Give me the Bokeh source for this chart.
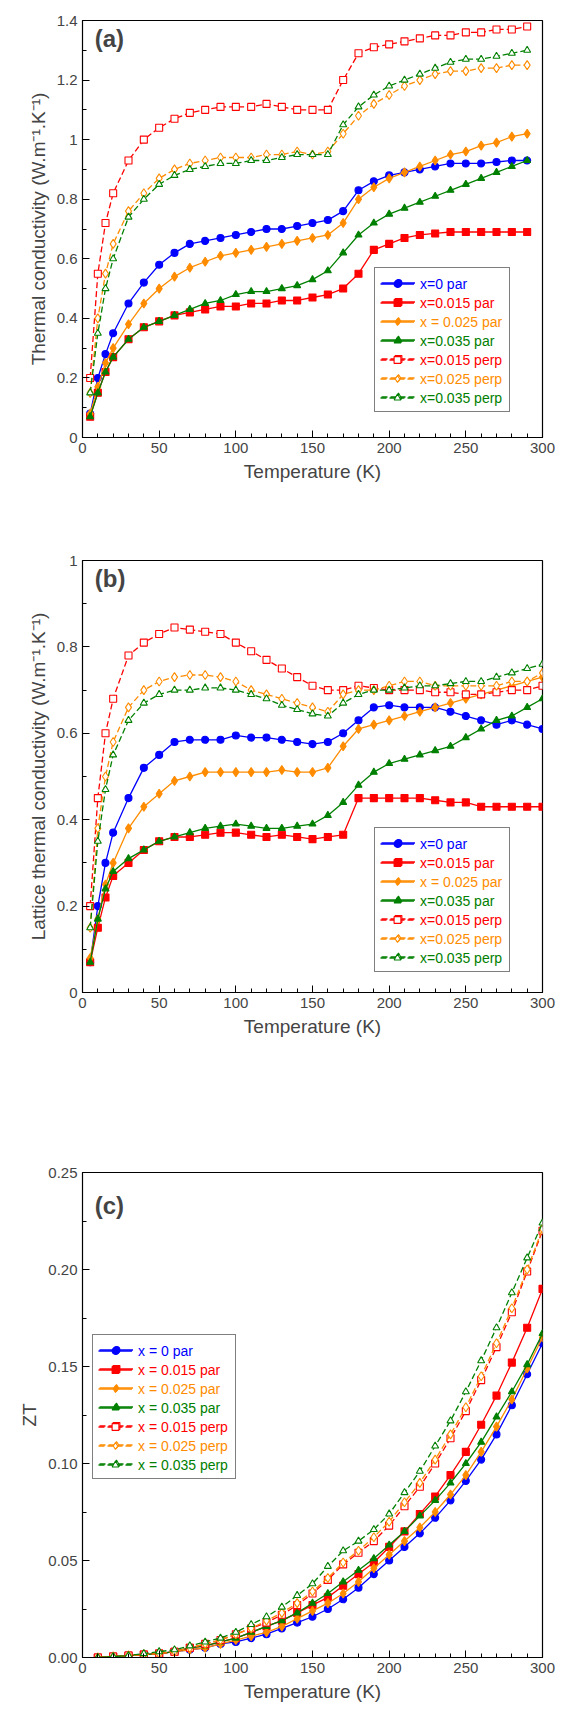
from bokeh.plotting import figure
from bokeh.models import Legend, LegendItem, Label, FixedTicker, CustomJSTickFormatter
from bokeh.layouts import column
from bokeh.embed import file_html
from bokeh.resources import INLINE

# ---------------- data ----------------
T_a = [5,10,15,20,30,40,50,60,70,80,90,100,110,120,130,140,150,160,170,180,190,200,210,220,230,240,250,260,270,280,290]
a_x0_par   = [0.08,0.20,0.28,0.35,0.45,0.52,0.58,0.62,0.65,0.66,0.67,0.68,0.69,0.70,0.70,0.71,0.72,0.73,0.76,0.83,0.86,0.88,0.89,0.90,0.91,0.92,0.92,0.92,0.925,0.93,0.93]
a_x015_par = [0.07,0.15,0.22,0.27,0.33,0.37,0.39,0.41,0.42,0.43,0.44,0.44,0.45,0.45,0.46,0.46,0.47,0.48,0.50,0.55,0.63,0.65,0.67,0.68,0.685,0.69,0.69,0.69,0.69,0.69,0.69]
a_x025_par = [0.08,0.17,0.25,0.30,0.38,0.45,0.50,0.54,0.57,0.59,0.61,0.62,0.63,0.64,0.65,0.66,0.67,0.68,0.72,0.80,0.84,0.87,0.89,0.91,0.93,0.95,0.96,0.98,0.99,1.01,1.02]
a_x035_par = [0.07,0.15,0.22,0.27,0.33,0.37,0.39,0.41,0.43,0.45,0.46,0.48,0.49,0.49,0.50,0.51,0.53,0.56,0.62,0.68,0.72,0.75,0.77,0.79,0.81,0.83,0.85,0.87,0.89,0.91,0.93]
a_x015_perp = [0.20,0.55,0.72,0.82,0.93,1.00,1.04,1.07,1.09,1.10,1.11,1.11,1.11,1.12,1.11,1.10,1.10,1.10,1.20,1.29,1.31,1.32,1.33,1.34,1.35,1.35,1.36,1.36,1.37,1.37,1.38]
a_x025_perp = [0.15,0.40,0.55,0.65,0.76,0.82,0.87,0.90,0.92,0.93,0.94,0.94,0.94,0.95,0.95,0.96,0.95,0.96,1.02,1.08,1.12,1.15,1.18,1.20,1.22,1.23,1.23,1.24,1.24,1.25,1.25]
a_x035_perp = [0.15,0.35,0.50,0.60,0.74,0.80,0.85,0.88,0.90,0.91,0.92,0.92,0.93,0.93,0.94,0.95,0.95,0.95,1.05,1.11,1.15,1.18,1.20,1.22,1.24,1.26,1.27,1.27,1.28,1.29,1.30]

T_b = [5,10,15,20,30,40,50,60,70,80,90,100,110,120,130,140,150,160,170,180,190,200,210,220,230,240,250,260,270,280,290,300]
b_x0_par   = [0.07,0.20,0.30,0.37,0.45,0.52,0.55,0.58,0.585,0.585,0.585,0.595,0.59,0.59,0.585,0.58,0.575,0.58,0.60,0.63,0.66,0.665,0.66,0.66,0.66,0.65,0.64,0.63,0.62,0.63,0.62,0.61]
b_x015_par = [0.07,0.15,0.22,0.27,0.30,0.33,0.35,0.36,0.36,0.365,0.37,0.37,0.365,0.36,0.365,0.36,0.355,0.36,0.365,0.45,0.45,0.45,0.45,0.45,0.445,0.44,0.44,0.43,0.43,0.43,0.43,0.43]
b_x025_par = [0.08,0.17,0.25,0.30,0.38,0.43,0.46,0.49,0.50,0.51,0.51,0.51,0.51,0.51,0.515,0.51,0.51,0.52,0.57,0.61,0.62,0.63,0.64,0.65,0.66,0.67,0.68,0.69,0.70,0.71,0.72,0.73]
b_x035_par = [0.07,0.17,0.24,0.28,0.31,0.33,0.35,0.36,0.37,0.38,0.385,0.39,0.385,0.38,0.38,0.385,0.39,0.41,0.44,0.48,0.51,0.53,0.54,0.55,0.56,0.57,0.59,0.61,0.63,0.64,0.66,0.68]
b_x015_perp = [0.20,0.45,0.60,0.68,0.78,0.81,0.83,0.845,0.84,0.835,0.83,0.81,0.79,0.77,0.75,0.73,0.71,0.70,0.70,0.71,0.705,0.70,0.70,0.70,0.695,0.695,0.69,0.69,0.695,0.70,0.70,0.71]
b_x025_perp = [0.15,0.38,0.50,0.58,0.66,0.70,0.72,0.73,0.735,0.735,0.73,0.72,0.70,0.69,0.68,0.67,0.66,0.65,0.69,0.70,0.70,0.71,0.72,0.72,0.71,0.71,0.71,0.71,0.71,0.72,0.72,0.74]
b_x035_perp = [0.15,0.35,0.47,0.55,0.63,0.67,0.69,0.70,0.70,0.705,0.705,0.70,0.69,0.68,0.665,0.655,0.645,0.64,0.67,0.69,0.70,0.70,0.705,0.71,0.71,0.715,0.72,0.72,0.73,0.74,0.75,0.76]

T_c = [10,20,30,40,50,60,70,80,90,100,110,120,130,140,150,160,170,180,190,200,210,220,230,240,250,260,270,280,290,300]
c_x0_par   = [0,0.0005,0.001,0.0015,0.002,0.003,0.004,0.005,0.007,0.008,0.010,0.012,0.015,0.018,0.021,0.025,0.030,0.036,0.043,0.050,0.057,0.064,0.072,0.081,0.091,0.102,0.115,0.130,0.146,0.162]
c_x015_par = [0,0.0005,0.001,0.0015,0.002,0.003,0.005,0.006,0.008,0.010,0.013,0.016,0.019,0.023,0.027,0.031,0.037,0.043,0.049,0.057,0.065,0.074,0.083,0.094,0.106,0.120,0.135,0.152,0.170,0.190]
c_x025_par = [0,0.0005,0.001,0.0015,0.002,0.003,0.004,0.005,0.007,0.009,0.011,0.013,0.016,0.020,0.024,0.028,0.033,0.039,0.046,0.053,0.060,0.067,0.075,0.084,0.094,0.106,0.119,0.133,0.149,0.165]
c_x035_par = [0,0.0005,0.001,0.0015,0.002,0.003,0.005,0.006,0.008,0.010,0.013,0.016,0.019,0.023,0.028,0.033,0.039,0.045,0.051,0.058,0.065,0.073,0.081,0.090,0.100,0.111,0.124,0.137,0.151,0.167]
c_x015_perp = [0,0.0005,0.001,0.0015,0.002,0.003,0.005,0.007,0.009,0.012,0.015,0.018,0.022,0.027,0.033,0.040,0.048,0.054,0.060,0.068,0.078,0.088,0.100,0.113,0.127,0.143,0.160,0.178,0.199,0.220]
c_x025_perp = [0,0.0005,0.001,0.0015,0.002,0.003,0.005,0.007,0.009,0.012,0.015,0.019,0.023,0.028,0.034,0.041,0.049,0.055,0.062,0.070,0.080,0.090,0.102,0.115,0.129,0.145,0.162,0.180,0.200,0.221]
c_x035_perp = [0,0.0005,0.001,0.002,0.003,0.004,0.006,0.008,0.010,0.013,0.017,0.021,0.026,0.032,0.038,0.047,0.055,0.060,0.066,0.074,0.085,0.096,0.109,0.122,0.137,0.153,0.170,0.188,0.206,0.224]

labels_ab = ["x=0 par", "x=0.015 par", "x = 0.025 par", "x=0.035 par", "x=0.015 perp", "x=0.025 perp", "x=0.035 perp"]
labels_c = ["x = 0 par", "x = 0.015 par", "x = 0.025 par", "x = 0.035 par", "x = 0.015 perp", "x = 0.025 perp", "x = 0.035 perp"]

COLORS = ["#0000ff", "#ff0000", "#ff8c00", "#008000", "#ff0000", "#ff8c00", "#008000"]
MARKERS = ["circle", "square", "diamond", "triangle", "square", "diamond", "triangle"]
FILLED = [True, True, True, True, False, False, False]
SIZES = [7, 7, 9, 7, 7, 9, 7]
FONT = "Liberation Sans"


def make_fig(height, top, bottom, ymax, yticks, ylabel, fmt):
    p = figure(width=572, height=height, x_range=(0, 300), y_range=(0, ymax),
               output_backend="svg", toolbar_location=None,
               min_border_left=82, min_border_right=30, min_border_top=top, min_border_bottom=bottom)
    p.grid.visible = False
    p.outline_line_color = "black"
    p.outline_line_width = 1.2
    p.xaxis.ticker = FixedTicker(ticks=[0, 50, 100, 150, 200, 250, 300],
                                 minor_ticks=list(range(0, 301, 10)))
    step = yticks[1] - yticks[0]
    p.yaxis.ticker = FixedTicker(ticks=yticks, minor_ticks=[yticks[i] + step / 2 for i in range(len(yticks) - 1)])
    p.yaxis.formatter = CustomJSTickFormatter(code=fmt)
    for ax in (p.xaxis, p.yaxis):
        ax.major_tick_in = 7
        ax.major_tick_out = 0
        ax.minor_tick_in = 4
        ax.minor_tick_out = 0
        ax.axis_line_color = "black"
        ax.major_label_text_font = FONT
        ax.major_label_text_font_size = "15px"
        ax.axis_label_text_font = FONT
        ax.axis_label_text_font_size = "19px"
        ax.axis_label_text_font_style = "normal"
    p.xaxis.axis_label = "Temperature (K)"
    p.yaxis.axis_label = ylabel
    return p


def add_series(p, T, series, labels, lx, ly):
    groups = []
    for i, ys in enumerate(series):
        c = COLORS[i]
        dash = "solid" if FILLED[i] else "6 3"
        l = p.line(T[:len(ys)], ys, line_color=c, line_width=1.3, line_dash=dash)
        s = p.scatter(T[:len(ys)], ys, marker=MARKERS[i], size=SIZES[i], line_color=c,
                      fill_color=c if FILLED[i] else "white", line_width=1.1)
        groups.append([l, s])
    n = len(series)
    h, sp, pad = 17, 2, 6
    common = dict(margin=0, padding=pad, spacing=sp, label_height=h, glyph_height=h,
                  glyph_width=34, label_text_font=FONT, label_text_font_size="14px",
                  label_standoff=6)
    base = Legend(items=[LegendItem(label=labels[i], renderers=groups[i]) for i in range(n)],
                  location=(lx, ly), border_line_color="black", border_line_width=1,
                  background_fill_color="white", background_fill_alpha=1.0,
                  label_text_alpha=0.0, **common)
    p.add_layout(base, "center")
    for i in range(n):
        lg = Legend(items=[LegendItem(label=labels[i], renderers=groups[i])],
                    location=(lx, ly + (n - 1 - i) * (h + sp)),
                    border_line_alpha=0, background_fill_alpha=0,
                    label_text_color=COLORS[i], **common)
        p.add_layout(lg, "center")


def panel_label(p, text, y):
    p.add_layout(Label(x=8, y=y, text=text, text_font=FONT, text_font_size="24px",
                       text_font_style="bold", text_baseline="top"))


fmt1 = "return tick.toFixed(1).replace(/\\.0$/, '');"
fmt2 = "return tick.toFixed(2);"

pa = make_fig(512, 20, 75, 1.4, [0, 0.2, 0.4, 0.6, 0.8, 1.0, 1.2, 1.4],
              "Thermal conductivity (W.m\u207b\u00b9.K\u207b\u00b9)", fmt1)
add_series(pa, T_a, [a_x0_par, a_x015_par, a_x025_par, a_x035_par, a_x015_perp, a_x025_perp, a_x035_perp],
           labels_ab, 292, 25)
panel_label(pa, "(a)", 1.385)

pb = make_fig(552, 48, 72, 1.0, [0, 0.2, 0.4, 0.6, 0.8, 1.0],
              "Lattice thermal conductivity (W.m\u207b\u00b9.K\u207b\u00b9)", fmt1)
add_series(pb, T_b, [b_x0_par, b_x015_par, b_x025_par, b_x035_par, b_x015_perp, b_x025_perp, b_x035_perp],
           labels_ab, 292, 20)
panel_label(pb, "(b)", 0.99)

pc = make_fig(640, 108, 44, 0.25, [0, 0.05, 0.10, 0.15, 0.20, 0.25], "ZT", fmt2)
add_series(pc, T_c, [c_x0_par, c_x015_par, c_x025_par, c_x035_par, c_x015_perp, c_x025_perp, c_x035_perp],
           labels_c, 10, 178)
panel_label(pc, "(c)", 0.24)

layout = column(pa, pb, pc, spacing=0)
open("out.html", "w").write(file_html(layout, INLINE))
